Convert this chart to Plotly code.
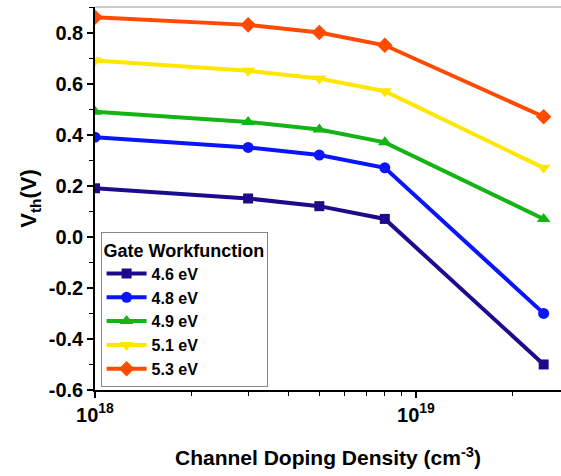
import plotly.graph_objects as go

# Channel doping density (cm^-3)
doping = [1e18, 3e18, 5e18, 8e18, 2.5e19]

# Threshold voltage (V) for each gate workfunction
vth_46 = [0.19, 0.15, 0.12, 0.07, -0.50]
vth_48 = [0.39, 0.35, 0.32, 0.27, -0.30]
vth_49 = [0.49, 0.45, 0.42, 0.37, 0.07]
vth_51 = [0.69, 0.65, 0.62, 0.57, 0.27]
vth_53 = [0.86, 0.83, 0.80, 0.75, 0.47]

series_names = ["4.6 eV", "4.8 eV", "4.9 eV", "5.1 eV", "5.3 eV"]

y_tick_vals = [-0.6, -0.4, -0.2, 0.0, 0.2, 0.4, 0.6, 0.8]
y_tick_text = ["-0.6", "-0.4", "-0.2", "0.0", "0.2", "0.4", "0.6", "0.8"]
x_tick_vals = [1e18, 1e19]
x_tick_text = ["10<sup>18</sup>", "10<sup>19</sup>"]

series = [
    (vth_46, "#1c0c8c", "square", 10),
    (vth_48, "#0a14ff", "circle", 11),
    (vth_49, "#14b414", "triangle-up", 12),
    (vth_51, "#ffe600", "triangle-down", 12),
    (vth_53, "#ff4a00", "diamond", 12),
]

FONT = "Liberation Sans"


def bold(size):
    return dict(family=FONT, size=size, color="black", weight="bold")


fig = go.Figure()
for (vals, color, symbol, size), name in zip(series, series_names):
    fig.add_trace(go.Scatter(
        x=doping, y=vals, name=name,
        mode="lines+markers",
        line=dict(color=color, width=4),
        marker=dict(symbol=symbol, size=size, color=color),
    ))

minor_x = [k * 1e18 for k in range(2, 10)] + [2e19]

fig.update_layout(
    width=561, height=476,
    margin=dict(l=95, r=0, t=7, b=86),
    paper_bgcolor="white", plot_bgcolor="white",
    font=bold(18),
    showlegend=True,
    legend=dict(
        title=dict(text="Gate Workfunction", font=bold(18)),
        x=0.012, y=0.412, xanchor="left", yanchor="top",
        bordercolor="#888888", borderwidth=1, bgcolor="white",
        font=bold(16),
        tracegroupgap=0, itemwidth=40,
    ),
    xaxis=dict(
        type="log", range=[18, 19.452],
        tickvals=x_tick_vals, ticktext=x_tick_text,
        ticks="outside", ticklen=6, tickwidth=1.5, tickcolor="black",
        showline=True, linecolor="black", linewidth=1.5,
        showgrid=False, zeroline=False,
        tickfont=bold(20),
        minor=dict(tickvals=minor_x, ticks="outside", ticklen=4, tickcolor="black", tickwidth=1, showgrid=False),
        title=dict(text="Channel Doping Density (cm<sup>-3</sup>)", font=bold(21), standoff=26),
    ),
    yaxis=dict(
        range=[-0.6, 0.9],
        tickvals=y_tick_vals, ticktext=y_tick_text,
        ticks="outside", ticklen=6, tickwidth=1.5, tickcolor="black",
        showline=True, linecolor="black", linewidth=1.5,
        showgrid=False, zeroline=False,
        tickfont=bold(20),
        minor=dict(dtick=0.1, tick0=0, ticks="outside", ticklen=4, tickcolor="black", tickwidth=1, showgrid=False),
        title=dict(text="V<sub>th</sub>(V)", font=bold(22), standoff=6),
    ),
)

# thin frame line along the top of the plotting area
fig.add_shape(type="line", xref="paper", yref="paper", x0=0, x1=1, y0=1, y1=1,
              line=dict(color="#bbbbbb", width=1.5))

fig.write_html("out.html")
